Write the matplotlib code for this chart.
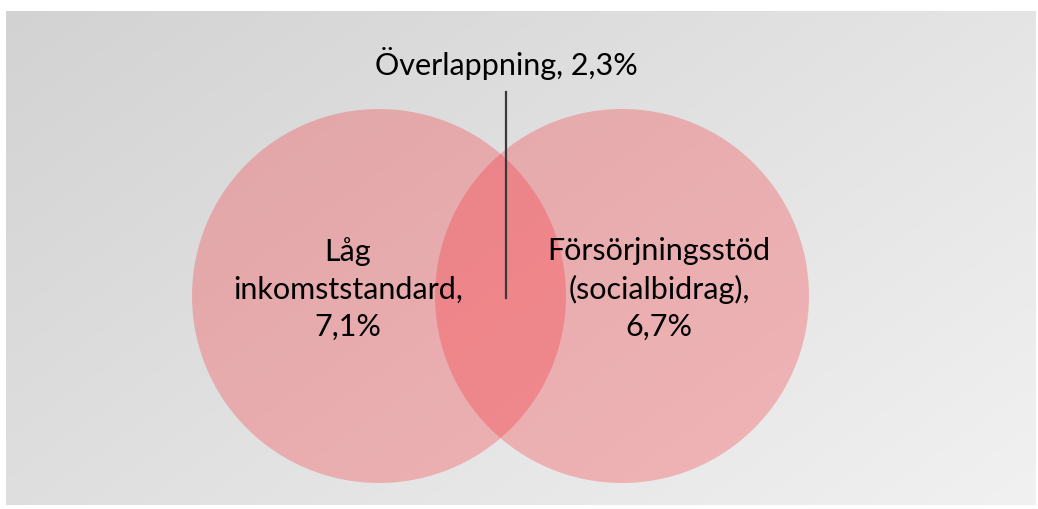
import numpy as np
import matplotlib
matplotlib.use("Agg")
import matplotlib.pyplot as plt
from matplotlib.patches import Circle

# ---- data ----
set_labels = ["Låg\ninkomststandard,", "Försörjningsstöd\n(socialbidrag),"]
set_values = [7.1, 6.7]
overlap_label = "Överlappning"
overlap_value = 2.3

def fmt(v):
    return f"{v:.1f}".replace(".", ",") + "%"

plt.rcParams['font.family'] = ['Lato', 'DejaVu Sans']

W, H = 1038, 509
fig = plt.figure(figsize=(W / 100, H / 100), dpi=100)
fig.patch.set_facecolor("white")
ax = fig.add_axes([0, 0, 1, 1])
ax.set_xlim(0, W)
ax.set_ylim(H, 0)
ax.axis("off")

# background gradient panel
x0, x1, y0, y1 = 6, 1036, 11, 505
gx = np.linspace(0, 1, 300)
gy = np.linspace(0, 1, 150)
GX, GY = np.meshgrid(gx, gy)
t = (GX * 0.6 + GY * 0.4)
g = 0.825 + (0.945 - 0.825) * t
img = np.dstack([g, g, g])
ax.imshow(img, extent=[x0, x1, y1, y0], aspect="auto", zorder=0, interpolation="bilinear")

# circles
r = 187
centers = [(379, 296), (622, 296)]
color = (0.99, 0.12, 0.16)
for (cx, cy) in centers:
    ax.add_patch(Circle((cx, cy), r, facecolor=color, alpha=0.27, edgecolor="none", zorder=1))

# labels
text_kw = dict(fontsize=22, color="black", ha="center", va="center", linespacing=1.4, zorder=3)
ax.text(348, 289, set_labels[0] + "\n" + fmt(set_values[0]), **text_kw)
ax.text(659, 289, set_labels[1] + "\n" + fmt(set_values[1]), **text_kw)

# overlap callout
ax.text(506, 63, f"{overlap_label}, {fmt(overlap_value)}", **text_kw)
ax.plot([506, 506], [92, 298], color="#3a3a3a", lw=1.6, zorder=3)

fig.savefig("out.png", dpi=100)
